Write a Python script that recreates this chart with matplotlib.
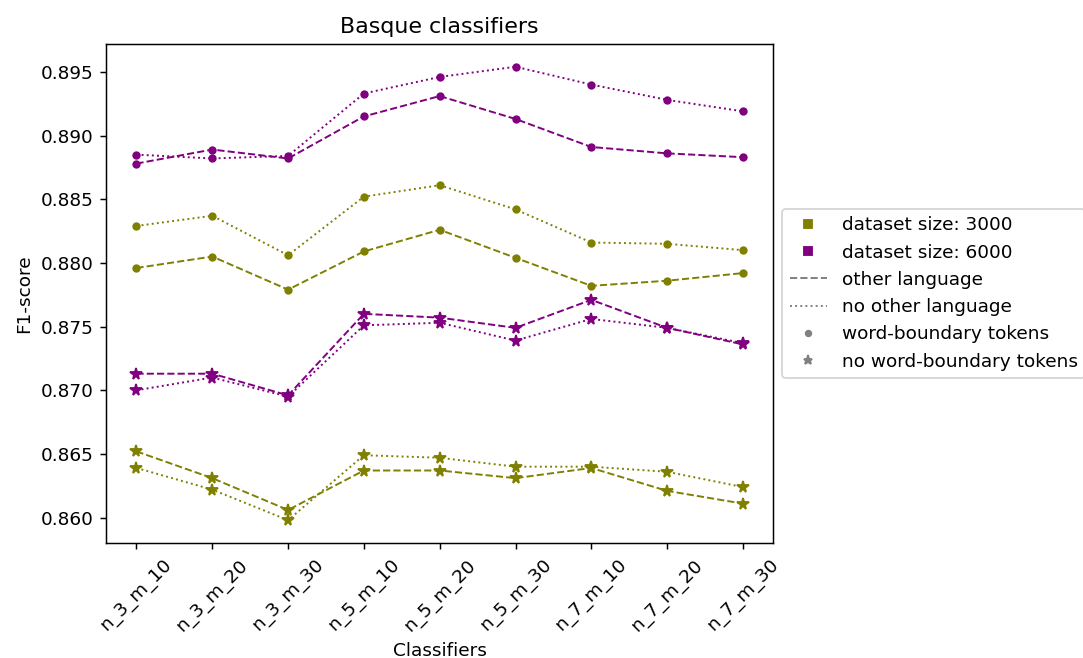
# Basque classifiers: F1-score per classifier configuration

import matplotlib

matplotlib.use("Agg")
import matplotlib.pyplot as plt
from matplotlib.lines import Line2D

classifiers = ["n_3_m_10", "n_3_m_20", "n_3_m_30",
               "n_5_m_10", "n_5_m_20", "n_5_m_30",
               "n_7_m_10", "n_7_m_20", "n_7_m_30"]

# dataset size 3000
f1_3000_other_wb = [0.8796, 0.8805, 0.8779, 0.8809, 0.8826, 0.8804, 0.8782, 0.8786, 0.8792]
f1_3000_noother_wb = [0.8829, 0.8837, 0.8806, 0.8852, 0.8861, 0.8842, 0.8816, 0.8815, 0.8810]
f1_3000_other_nowb = [0.8652, 0.8631, 0.8606, 0.8637, 0.8637, 0.8631, 0.8639, 0.8621, 0.8611]
f1_3000_noother_nowb = [0.8639, 0.8622, 0.8598, 0.8649, 0.8647, 0.8640, 0.8640, 0.8636, 0.8624]

# dataset size 6000
f1_6000_other_wb = [0.8878, 0.8889, 0.8882, 0.8915, 0.8931, 0.8913, 0.8891, 0.8886, 0.8883]
f1_6000_noother_wb = [0.8885, 0.8882, 0.8884, 0.8933, 0.8946, 0.8954, 0.8940, 0.8928, 0.8919]
f1_6000_other_nowb = [0.8713, 0.8713, 0.8696, 0.8760, 0.8757, 0.8749, 0.8771, 0.8749, 0.8736]
f1_6000_noother_nowb = [0.8700, 0.8710, 0.8695, 0.8751, 0.8753, 0.8739, 0.8756, 0.8749, 0.8737]

dpi = 133
fig = plt.figure(figsize=(1083 / dpi, 658 / dpi), dpi=dpi)
ax = fig.add_axes([0.098, 0.175, 0.616, 0.758])

x = range(len(classifiers))
lw = 1.05
dot = dict(marker="o", markersize=3.5)
star = dict(marker="*", markersize=6.3)

ax.plot(x, f1_3000_other_wb, color="olive", linestyle="--", linewidth=lw, **dot)
ax.plot(x, f1_3000_noother_wb, color="olive", linestyle=":", linewidth=lw, **dot)
ax.plot(x, f1_3000_other_nowb, color="olive", linestyle="--", linewidth=lw, **star)
ax.plot(x, f1_3000_noother_nowb, color="olive", linestyle=":", linewidth=lw, **star)

ax.plot(x, f1_6000_other_wb, color="purple", linestyle="--", linewidth=lw, **dot)
ax.plot(x, f1_6000_noother_wb, color="purple", linestyle=":", linewidth=lw, **dot)
ax.plot(x, f1_6000_other_nowb, color="purple", linestyle="--", linewidth=lw, **star)
ax.plot(x, f1_6000_noother_nowb, color="purple", linestyle=":", linewidth=lw, **star)

ax.set_xticks(list(x))
ax.set_xticklabels(classifiers, rotation=45)
ax.set_xlabel("Classifiers")
ax.set_ylabel("F1-score")
ax.set_title("Basque classifiers")

handles = [
    Line2D([], [], color="olive", marker="s", linestyle="none", markersize=4),
    Line2D([], [], color="purple", marker="s", linestyle="none", markersize=4),
    Line2D([], [], color="gray", linestyle="--", linewidth=lw),
    Line2D([], [], color="gray", linestyle=":", linewidth=lw),
    Line2D([], [], color="gray", marker="o", linestyle="none", markersize=3),
    Line2D([], [], color="gray", marker="*", linestyle="none", markersize=5),
]
labels = ["dataset size: 3000", "dataset size: 6000", "other language",
          "no other language", "word-boundary tokens", "no word-boundary tokens"]
ax.legend(handles, labels, loc="center left", bbox_to_anchor=(1.0, 0.5))

fig.savefig("out.png")
